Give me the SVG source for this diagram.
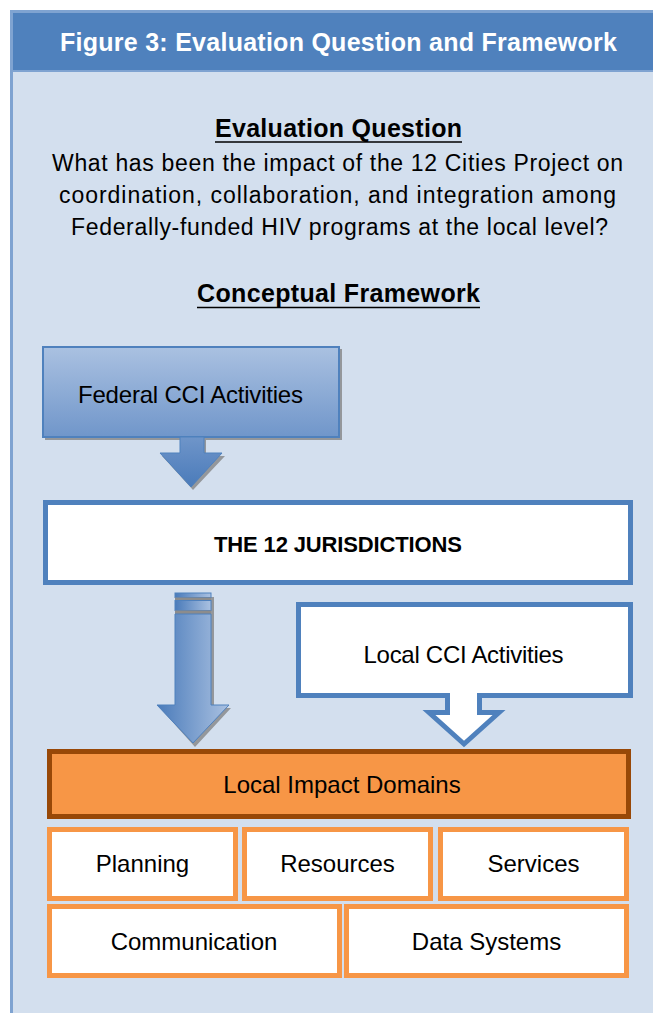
<svg xmlns="http://www.w3.org/2000/svg" width="653" height="1013" viewBox="0 0 653 1013">
  <style>
    .sans { font-family: "Liberation Sans", Arial, sans-serif; fill: #000; }
    .hdr { font-family: "Liberation Sans", Arial, sans-serif; font-weight: bold; font-size: 25px; fill: #fff; }
    .bold { font-weight: bold; }
    .lbl { font-size: 24px; }
    .body { font-size: 23px; }
    .title { font-size: 25px; }
    .blueBox { fill: #fff; stroke: #4F81BD; stroke-width: 5; }
    .domain { fill: #fff; stroke: #F79646; stroke-width: 5; }
    .shadow { fill: #7F7F7F; opacity: 0.75; }
    .uline { stroke: #000; stroke-width: 1.6; }
  </style>
  <defs>
    <linearGradient id="fedFill" x1="0" y1="0" x2="0" y2="1">
      <stop offset="0" stop-color="#AAC1E1"/>
      <stop offset="1" stop-color="#7096CA"/>
    </linearGradient>
    <linearGradient id="fedArrowFill" x1="0" y1="0" x2="0" y2="1">
      <stop offset="0" stop-color="#6F95C9"/>
      <stop offset="1" stop-color="#4A7BBA"/>
    </linearGradient>
    <linearGradient id="sideArrowFill" x1="0" y1="0" x2="1" y2="0">
      <stop offset="0" stop-color="#4A7BBA"/>
      <stop offset="1" stop-color="#AAC1E1"/>
    </linearGradient>
  </defs>

  <!-- page background and figure frame -->
  <rect x="0" y="0" width="653" height="1013" fill="#fff"/>
  <rect x="11.5" y="11.5" width="660" height="1020" fill="#D3DFEE" stroke="#7FA3D1" stroke-width="3"/>
  <rect x="13" y="13" width="650" height="57" fill="#4F81BD"/>
  <line x1="13" y1="71" x2="653" y2="71" stroke="#7FA3D1" stroke-width="2"/>
  <text class="hdr" x="338.5" y="51" text-anchor="middle" textLength="557">Figure 3: Evaluation Question and Framework</text>

  <!-- question block -->
  <g id="question">
    <text class="sans bold title" x="338.5" y="137" text-anchor="middle" textLength="247">Evaluation Question</text>
    <line class="uline" x1="215" y1="142" x2="462" y2="142"/>
    <text class="sans body" x="337.5" y="171" text-anchor="middle" textLength="571">What has been the impact of the 12 Cities Project on</text>
    <text class="sans body" x="337.5" y="203" text-anchor="middle" textLength="557">coordination, collaboration, and integration among</text>
    <text class="sans body" x="339.5" y="235" text-anchor="middle" textLength="537">Federally-funded HIV programs at the local level?</text>
    <text class="sans bold title" x="338.5" y="302" text-anchor="middle" textLength="283">Conceptual Framework</text>
    <line class="uline" x1="197" y1="307.5" x2="480" y2="307.5"/>
  </g>

  <!-- Federal CCI Activities -->
  <g id="federal">
    <rect class="shadow" x="45" y="349" width="297" height="91"/>
    <rect x="43" y="347" width="296" height="90" fill="url(#fedFill)" stroke="#4F81BD" stroke-width="2"/>
    <text class="sans lbl" x="190.5" y="403" text-anchor="middle" textLength="225">Federal CCI Activities</text>
  </g>

  <!-- THE 12 JURISDICTIONS -->
  <g id="jurisdictions">
    <rect class="blueBox" x="45.5" y="502.5" width="585" height="80"/>
    <text class="sans bold" font-size="22" x="338" y="552" text-anchor="middle" textLength="248">THE 12 JURISDICTIONS</text>
  </g>

  <!-- Local CCI Activities (callout with built-in arrow) -->
  <g id="localcci">
    <path class="blueBox" stroke-linejoin="miter" d="M298.5,604.5 H630.5 V695.5 H479.5 V712.5 H499 L464,744 L429,712.5 H447.5 V695.5 H298.5 Z"/>
    <text class="sans lbl" x="463.5" y="663" text-anchor="middle" textLength="200">Local CCI Activities</text>
  </g>

  <!-- connectors -->
  <g id="connectors">
    <!-- Federal -> Jurisdictions -->
    <path class="shadow" d="M182,440 H206 V456 H225 L193,490 L162,456 H182 Z"/>
    <path d="M180,437 H204 V453 H222 L191,487 L160,453 H180 Z" fill="url(#fedArrowFill)" stroke="#4F81BD" stroke-width="1"/>
    <!-- Jurisdictions -> Local Impact Domains -->
    <path class="shadow" d="M177,597 H214 V708 H231 L195,747 L160,708 H177 Z"/>
    <rect x="175" y="593" width="36" height="4.5" fill="url(#sideArrowFill)" stroke="#4F81BD" stroke-width="1"/>
    <rect x="175" y="597.5" width="36" height="3" fill="#8C8C8C"/>
    <rect x="175" y="600.5" width="36" height="10" fill="url(#sideArrowFill)" stroke="#4F81BD" stroke-width="1"/>
    <rect x="175" y="610.5" width="36" height="3.5" fill="#8C8C8C"/>
    <path d="M175,614 H211 V705 H229 L193,743 L157,705 H175 Z" fill="url(#sideArrowFill)" stroke="#4F81BD" stroke-width="1"/>
  </g>

  <!-- Local Impact Domains -->
  <g id="impact">
    <rect x="49.5" y="751.5" width="579" height="65" fill="#F79646" stroke="#984807" stroke-width="5"/>
    <text class="sans lbl" x="342" y="793" text-anchor="middle">Local Impact Domains</text>
  </g>

  <g id="planning">
    <rect class="domain" x="49.5" y="829.5" width="186" height="69"/>
    <text class="sans lbl" x="142.5" y="872" text-anchor="middle">Planning</text>
  </g>
  <g id="resources">
    <rect class="domain" x="244.5" y="829.5" width="186" height="69"/>
    <text class="sans lbl" x="337.5" y="872" text-anchor="middle">Resources</text>
  </g>
  <g id="services">
    <rect class="domain" x="440.5" y="829.5" width="186" height="69"/>
    <text class="sans lbl" x="533.5" y="872" text-anchor="middle">Services</text>
  </g>
  <g id="communication">
    <rect class="domain" x="49.5" y="906.5" width="290" height="69"/>
    <text class="sans lbl" x="194" y="950" text-anchor="middle">Communication</text>
  </g>
  <g id="datasystems">
    <rect class="domain" x="346.5" y="906.5" width="280" height="69"/>
    <text class="sans lbl" x="486.5" y="950" text-anchor="middle">Data Systems</text>
  </g>
</svg>
